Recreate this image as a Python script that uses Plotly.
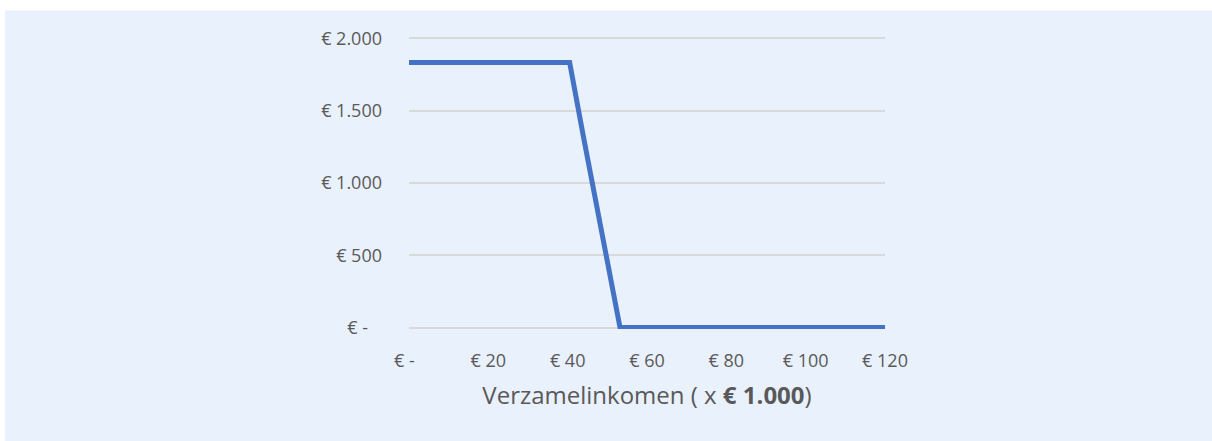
import plotly.graph_objects as go

# Data (income x 1000 euro, amount in euro)
income = [0, 40.5, 44.0, 53.2, 120]
amount = [1834, 1834, 1317, 0, 0]

x_tickvals = [0, 20, 40, 60, 80, 100, 120]
x_ticktext = ["€ -\u00a0\u00a0", "€ 20", "€ 40", "€ 60", "€ 80", "€ 100", "€ 120"]
y_tickvals = [0, 500, 1000, 1500, 2000]
y_ticktext = ["€ -\u00a0\u00a0\u00a0", "€ 500", "€ 1.000", "€ 1.500", "€ 2.000"]

BG = "#E9F1FD"
TXT = "#595959"
FONT = "Open Sans"

fig = go.Figure()
fig.add_trace(go.Scatter(
    x=income, y=amount, mode="lines",
    line=dict(color="#4472C4", width=5),
    cliponaxis=False, hoverinfo="skip", showlegend=False,
))

# plot area geometry (px); y range padded slightly so edge gridlines are drawn
L, R = 409, 885
Y_PAD = 10
px_per_unit = 290 / 2000
T = 38 - Y_PAD * px_per_unit
B = 328 + Y_PAD * px_per_unit
W, H = R - L, B - T

def px_to_paper_x(px):
    return (px - L) / W

def px_to_paper_y(py):
    return (B - py) / H

# white outer strips (top and left)
fig.add_shape(type="rect", xref="paper", yref="paper", layer="below",
              x0=px_to_paper_x(-5), x1=px_to_paper_x(1220),
              y0=px_to_paper_y(10), y1=px_to_paper_y(-5),
              fillcolor="white", line_width=0)
fig.add_shape(type="rect", xref="paper", yref="paper", layer="below",
              x0=px_to_paper_x(-5), x1=px_to_paper_x(5),
              y0=px_to_paper_y(450), y1=px_to_paper_y(-5),
              fillcolor="white", line_width=0)

fig.update_layout(
    width=1212, height=441,
    margin=dict(l=L, r=1212 - R, t=T, b=441 - B, pad=0),
    paper_bgcolor=BG, plot_bgcolor=BG,
    font=dict(family=FONT, color=TXT, size=18),
)
fig.update_xaxes(
    range=[0, 120], tickvals=x_tickvals, ticktext=x_ticktext,
    showgrid=False, zeroline=False, showline=False,
    ticks="", ticklabelstandoff=19,
    tickfont=dict(size=18, color=TXT, family=FONT),
    title=dict(text="Verzamelinkomen ( x <b>€ 1.000</b>)",
               font=dict(size=24, color=TXT, family=FONT), standoff=16),
)
fig.update_yaxes(
    range=[-Y_PAD, 2000 + Y_PAD], tickvals=y_tickvals, ticktext=y_ticktext,
    showgrid=True, gridcolor="#D9D9D9", gridwidth=2,
    zeroline=False, showline=False, ticks="", ticklabelstandoff=26,
    tickfont=dict(size=18, color=TXT, family=FONT),
)

fig.write_html("out.html", config={"displayModeBar": False},
               post_script="document.body.style.margin='0px';document.body.style.overflow='hidden';")
